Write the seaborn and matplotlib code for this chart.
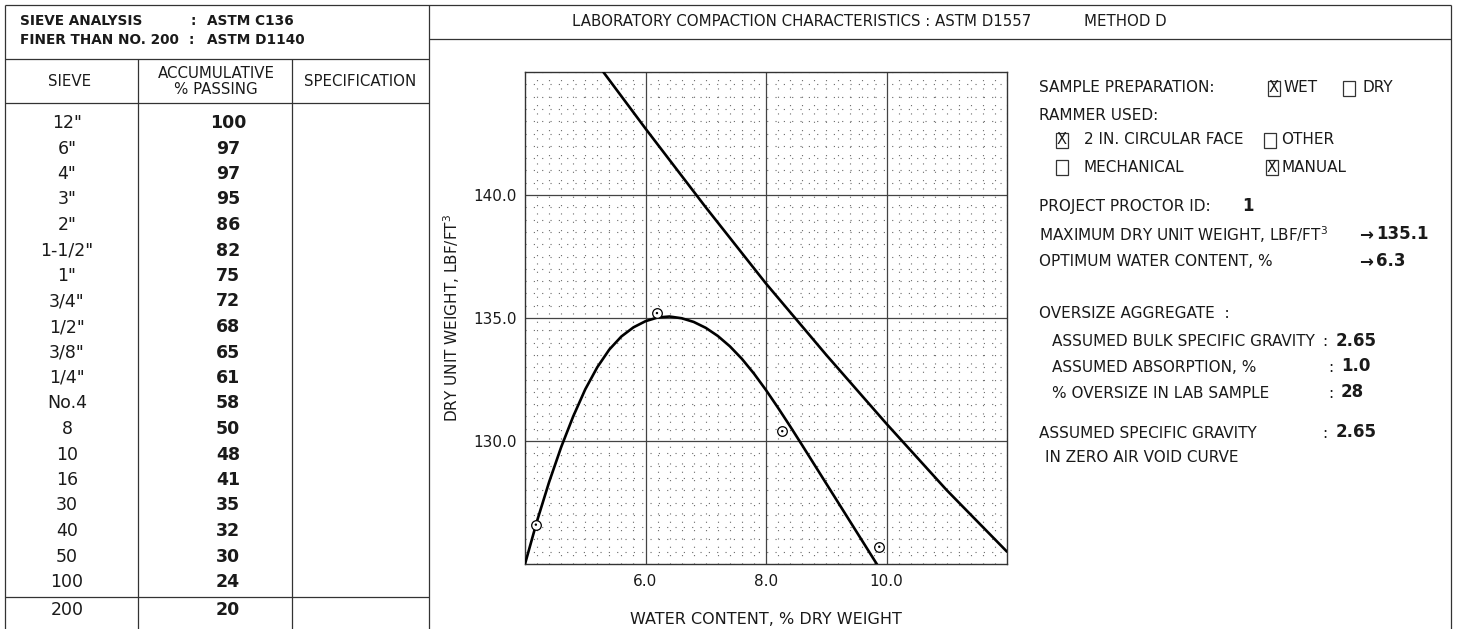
import matplotlib
matplotlib.use("Agg")
import matplotlib.pyplot as plt
import seaborn as sns
import pandas as pd
from matplotlib.patches import Rectangle
from matplotlib.ticker import MultipleLocator, FixedLocator

# ---------------- data ----------------
sieves = ['12"', '6"', '4"', '3"', '2"', '1-1/2"', '1"', '3/4"', '1/2"', '3/8"',
          '1/4"', 'No.4', '8', '10', '16', '30', '40', '50', '100', '200']
passing = [100, 97, 97, 95, 86, 82, 75, 72, 68, 65, 61, 58, 50, 48, 41, 35, 32, 30, 24, 20]

# measured compaction points (water content %, dry unit weight lbf/ft3)
pt_water = [4.18, 6.19, 8.27, 9.88]
pt_dry = [126.6, 135.2, 130.4, 125.7]

# fitted compaction curve
curve_water = [4.0, 4.2, 4.4, 4.6, 4.8, 5.0, 5.2, 5.4, 5.6, 5.8, 6.0, 6.2, 6.4, 6.6,
               6.8, 7.0, 7.2, 7.4, 7.6, 7.8, 8.0, 8.2, 8.4, 8.6, 8.8, 9.0, 9.2,
               9.4, 9.6, 9.8, 10.0]
curve_dry = [125.0, 126.75, 128.33, 129.75, 131.0, 132.1, 133.0, 133.72, 134.25,
             134.62, 134.87, 135.02, 135.06, 134.99, 134.84, 134.6, 134.27, 133.85,
             133.34, 132.74, 132.07, 131.35, 130.6, 129.83, 129.05, 128.27, 127.49,
             126.71, 125.93, 125.15, 124.37]

# zero air void curve (Gs = 2.65)
zav_water = [5.3, 6.0, 7.0, 8.0, 9.0, 10.0, 11.0, 12.0]
zav_dry = [145.0, 142.7, 139.5, 136.4, 133.5, 130.7, 128.0, 125.5]

x_ticks = [6.0, 8.0, 10.0]
y_ticks = [130.0, 135.0, 140.0]

# ---------------- style ----------------
sns.set_style("white")
plt.rcParams['font.family'] = ['DejaVu Sans']
INK = '#1a1a1a'
LINE = '#333333'

W, H = 1458, 629
fig = plt.figure(figsize=(W / 100, H / 100), dpi=100)

bg = fig.add_axes([0, 0, 1, 1])
bg.set_xlim(0, W)
bg.set_ylim(H, 0)
bg.axis('off')

def hline(y, x0, x1):
    bg.plot([x0, x1], [y, y], color=LINE, lw=0.9, solid_capstyle='butt')

def vline(x, y0, y1):
    bg.plot([x, x], [y0, y1], color=LINE, lw=0.9, solid_capstyle='butt')

# frame lines
hline(5, 5, 1451)
vline(5, 5, H)
vline(429, 5, H)
vline(1451, 5, H)
hline(59, 5, 429)
hline(103, 5, 429)
hline(597, 5, 429)
vline(138, 59, H)
vline(292, 59, H)
hline(39, 429, 1451)

# left titles
tkw = dict(fontsize=9.8, fontweight='bold', color=INK, va='center')
bg.text(20, 21, "SIEVE ANALYSIS", **tkw)
bg.text(191, 21, ":", **tkw)
bg.text(207, 21, "ASTM C136", **tkw)
bg.text(20, 40, "FINER THAN NO. 200", **tkw)
bg.text(189, 40, ":", **tkw)
bg.text(207, 40, "ASTM D1140", **tkw)

hkw = dict(fontsize=10.8, color=INK, va='center', ha='center')
bg.text(70, 81, "SIEVE", **hkw)
bg.text(216, 73, "ACCUMULATIVE", **hkw)
bg.text(216, 89, "% PASSING", **hkw)
bg.text(360, 81, "SPECIFICATION", **hkw)

# table rows
for i, (s, p) in enumerate(zip(sieves, passing)):
    y = 123 + i * 25.5 if i < 19 else 610
    bg.text(67, y, s, fontsize=12.5, color=INK, ha='center', va='center')
    bg.text(228, y, str(p), fontsize=12.5, fontweight='bold', color=INK,
            ha='center', va='center')

# right title
bg.text(572, 22, "LABORATORY COMPACTION CHARACTERISTICS : ASTM D1557",
        fontsize=10.8, color=INK, va='center')
bg.text(1084, 22, "METHOD D", fontsize=10.8, color=INK, va='center')

# right info panel
rkw = dict(fontsize=11, color=INK, va='center')
bkw = dict(fontsize=12, fontweight='bold', color=INK, va='center')

def checkbox(x, yc, checked):
    bg.add_patch(Rectangle((x, yc - 7.5), 12, 15, fill=False, ec=LINE, lw=0.9))
    if checked:
        bg.text(x + 6, yc, "X", fontsize=10.5, color=INK, ha='center', va='center')

bg.text(1039, 88, "SAMPLE PREPARATION:", **rkw)
checkbox(1268, 88, True); bg.text(1284, 88, "WET", **rkw)
checkbox(1343, 88, False); bg.text(1363, 88, "DRY", **rkw)
bg.text(1039, 115, "RAMMER USED:", **rkw)
checkbox(1056, 140, True); bg.text(1084, 140, "2 IN. CIRCULAR FACE", **rkw)
checkbox(1264, 140, False); bg.text(1281, 140, "OTHER", **rkw)
checkbox(1056, 167, False); bg.text(1084, 167, "MECHANICAL", **rkw)
checkbox(1266, 167, True); bg.text(1282, 167, "MANUAL", **rkw)
bg.text(1039, 207, "PROJECT PROCTOR ID:", **rkw)
bg.text(1242, 206, "1", **bkw)
bg.text(1039, 235, "MAXIMUM DRY UNIT WEIGHT, LBF/FT$^3$", **rkw)
bg.text(1359, 235, "\u2192", **bkw)
bg.text(1376, 234, "135.1", **bkw)
bg.text(1039, 262, "OPTIMUM WATER CONTENT, %", **rkw)
bg.text(1359, 262, "\u2192", **bkw)
bg.text(1376, 261, "6.3", **bkw)
bg.text(1039, 313, "OVERSIZE AGGREGATE  :", **rkw)
bg.text(1052, 342, "ASSUMED BULK SPECIFIC GRAVITY", **rkw)
bg.text(1322, 342, ":", **rkw); bg.text(1336, 341, "2.65", **bkw)
bg.text(1052, 367, "ASSUMED ABSORPTION, %", **rkw)
bg.text(1328, 367, ":", **rkw); bg.text(1341, 366, "1.0", **bkw)
bg.text(1052, 393, "% OVERSIZE IN LAB SAMPLE", **rkw)
bg.text(1328, 393, ":", **rkw); bg.text(1341, 392, "28", **bkw)
bg.text(1039, 433, "ASSUMED SPECIFIC GRAVITY", **rkw)
bg.text(1322, 433, ":", **rkw); bg.text(1336, 432, "2.65", **bkw)
bg.text(1045, 457, "IN ZERO AIR VOID CURVE", **rkw)

# ---------------- compaction plot ----------------
ax_l, ax_r, ax_t, ax_b = 525, 1007, 72, 564
ax = fig.add_axes([ax_l / W, (H - ax_b) / H, (ax_r - ax_l) / W, (ax_b - ax_t) / H])
ax.set_facecolor('none')

df_curve = pd.DataFrame({'w': curve_water, 'g': curve_dry})
df_zav = pd.DataFrame({'w': zav_water, 'g': zav_dry})
df_pts = pd.DataFrame({'w': pt_water, 'g': pt_dry})

sns.lineplot(data=df_curve, x='w', y='g', ax=ax, color='black', lw=1.9,
             sort=False, estimator=None, zorder=4)
sns.lineplot(data=df_zav, x='w', y='g', ax=ax, color='black', lw=1.9,
             sort=False, estimator=None, zorder=4)
sns.scatterplot(data=df_pts, x='w', y='g', ax=ax, marker='o', s=48,
                facecolor='white', edgecolor='black', linewidth=0.9, zorder=5)
sns.scatterplot(data=df_pts, x='w', y='g', ax=ax, marker='o', s=3,
                color='black', edgecolor='none', zorder=6)

ax.set_xlim(4.0, 12.0)
ax.set_ylim(125.0, 145.0)
ax.xaxis.set_major_locator(FixedLocator(x_ticks))
ax.yaxis.set_major_locator(FixedLocator(y_ticks))
ax.xaxis.set_minor_locator(MultipleLocator(0.2))
ax.yaxis.set_minor_locator(MultipleLocator(0.5))
ax.set_xticklabels([f"{v:.1f}" for v in x_ticks])
ax.set_yticklabels([f"{v:.1f}" for v in y_ticks])
ax.grid(which='major', color='#444444', lw=0.9, ls='-')
ax.grid(which='minor', color='#6a6a6a', lw=0.8, ls=(0, (1, 6.5)))
ax.set_axisbelow(True)
ax.tick_params(which='both', length=0, labelsize=11, colors=INK)
ax.tick_params(axis='x', pad=7)
ax.tick_params(axis='y', pad=6)
for sp in ax.spines.values():
    sp.set_visible(True)
    sp.set_color(LINE)
    sp.set_linewidth(1.0)

ax.set_xlabel("WATER CONTENT, % DRY WEIGHT", fontsize=11.5, color=INK, labelpad=17)
ax.set_ylabel("DRY UNIT WEIGHT, LBF/FT$^3$", fontsize=11, color=INK, labelpad=8)

fig.savefig("out.png", dpi=100, facecolor='white')
